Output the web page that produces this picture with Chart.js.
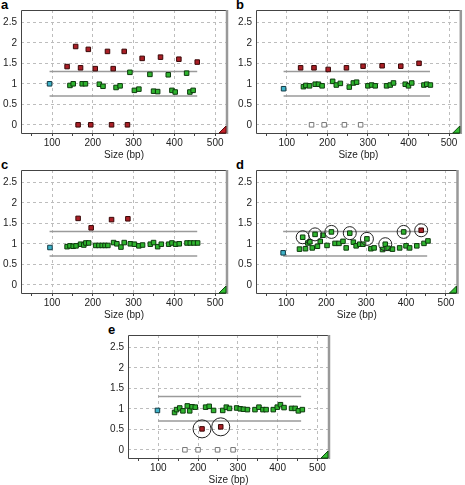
<!DOCTYPE html>
<html>
<head>
<meta charset="utf-8">
<script src="https://cdn.jsdelivr.net/npm/chart.js@4.4.1/dist/chart.umd.min.js"></script>
<style>
  body { margin:0; background:#fff; width:465px; height:485px; position:relative; overflow:hidden; font-family:"Liberation Sans", Arial, sans-serif; }
  canvas { position:absolute; }
  .lbl { position:absolute; font-weight:bold; font-size:13px; color:#000; line-height:13px; }
</style>
</head>
<body>
<div class="lbl" style="left:1px;top:-2px">a</div>
<div class="lbl" style="left:236px;top:-2px">b</div>
<div class="lbl" style="left:1px;top:158px">c</div>
<div class="lbl" style="left:236px;top:158px">d</div>
<div class="lbl" style="left:108px;top:323px">e</div>
<canvas id="pa" width="232" height="163" style="left:0;top:0"></canvas>
<canvas id="pb" width="230" height="163" style="left:235px;top:0"></canvas>
<canvas id="pc" width="232" height="163" style="left:0;top:160px"></canvas>
<canvas id="pd" width="230" height="163" style="left:235px;top:160px"></canvas>
<canvas id="pe" width="232" height="163" style="left:107px;top:325px"></canvas>
<script>
// axis ticks
const xTicks = [50,100,150,200,250,300,350,400,450,500];
const yTicks = [0,0.5,1,1.5,2,2.5];
const xRange = [24, 529];
const yRange = [-0.2, 2.8];
const bounds = [0.7, 1.3];

// panel a  [size bp, ratio]
const aRef = [[94,1.0]];
const aGreen = [[144,0.96],[152,1.0],[174,1.0],[182,1.0],[216,0.99],[225,0.94],[257,0.91],[267,0.95],[291,1.28],[302,0.84],[313,0.87],[340,1.23],[349,0.82],[359,0.81],[385,1.22],[394,0.84],[402,0.80],[430,1.26],[438,0.80],[446,0.84]];
const aRed = [[137,1.42],[158,1.91],[170,1.39],[189,1.84],[206,1.37],[236,1.79],[250,1.37],[277,1.79],[321,1.62],[366,1.65],[411,1.60],[456,1.53],[164,0],[195,0],[246,0],[285,0]];
const aBand = [94, 456];

// panel b
const bRef = [[92,0.88]];
const bGreen = [[141,0.93],[147,0.96],[156,0.95],[170,0.99],[178,0.99],[187,0.95],[213,1.06],[222,0.97],[232,1.01],[254,0.92],[264,1.02],[272,1.04],[300,0.95],[309,0.97],[318,0.95],[346,0.95],[355,0.97],[363,1.02],[392,0.99],[400,0.95],[408,1.02],[438,0.97],[445,0.99],[454,0.97]];
const bRed = [[134,1.39],[167,1.39],[202,1.35],[247,1.39],[288,1.43],[335,1.44],[381,1.43],[426,1.50]];
const bEmpty = [[161,0],[192,0],[242,0],[282,0]];
const bBand = [92, 453];

// panel c
const cRef = [[95,0.91]];
const cGreen = [[137,0.93],[144,0.95],[152,0.94],[159,0.95],[170,0.99],[178,0.97],[183,1.02],[190,1.02],[207,0.96],[215,0.96],[223,0.96],[230,0.96],[237,0.96],[251,1.03],[259,1.0],[269,0.92],[277,1.03],[292,1.0],[302,0.99],[313,0.95],[322,0.97],[341,0.99],[349,1.03],[359,0.93],[368,0.99],[386,0.99],[394,1.02],[403,0.99],[412,1.0],[431,1.02],[439,1.02],[448,1.02],[457,1.02]];
const cRed = [[164,1.62],[196,1.39],[246,1.59],[286,1.61]];
const cBand = [94, 456];

// panel d
const dRef = [[92,0.78]];
const dGreen = [[133,0.87],[148,0.88],[154,1.02],[159,1.05],[165,0.90],[178,0.94],[185,1.06],[192,1.21],[202,0.96],[222,1.01],[232,1.01],[242,1.06],[250,0.90],[268,1.04],[275,0.95],[284,0.99],[292,0.99],[312,0.88],[320,0.90],[341,0.86],[355,0.89],[366,0.87],[384,0.90],[400,0.95],[409,0.90],[427,0.95],[445,1.01],[455,1.07]];
const dGreenFlag = [[141,1.16],[172,1.23],[213,1.29],[259,1.26],[302,1.12],[348,0.99],[394,1.29]];
const dRed = [[438,1.33]];
const dBand = [92, 453];

// panel e
const eRef = [[98,0.96]];
const eGreen = [[141,0.91],[146,0.98],[154,1.02],[162,0.95],[173,1.07],[179,0.95],[185,1.05],[193,1.04],[219,1.04],[228,1.06],[239,0.96],[262,0.96],[271,1.04],[279,1.01],[297,1.02],[306,1.0],[314,0.99],[324,0.98],[343,0.98],[353,1.04],[363,0.98],[371,0.98],[389,0.98],[399,1.04],[407,1.10],[416,1.03],[435,1.01],[444,1.01],[452,0.95],[462,0.98]];
const eRed = [[210,0.51],[257,0.56]];
const eEmpty = [[167,0],[200,0],[249,0],[288,0]];
const eBand = [100, 459];

const GREEN = '#2fb52f', GREEN_E = '#0d3a0d';
const RED = '#aa1f26', RED_E = '#3a0808';
const CYAN = '#3fb3c9', CYAN_E = '#123a44';

function pts(arr){ return arr.map(p => ({x:p[0], y:p[1]})); }

function markers(arr, fill, edge){
  return { type:'scatter', data: pts(arr), pointStyle:'rect', pointRadius:3.2, pointHoverRadius:3.2,
    backgroundColor: fill, borderColor: edge, borderWidth:1, order:1 };
}
function rings(arr, r){
  return { type:'scatter', data: pts(arr), pointStyle:'circle', pointRadius:r, pointHoverRadius:r,
    backgroundColor:'rgba(0,0,0,0)', borderColor:'#222', borderWidth:1, order:0 };
}
function bandLine(band, y){
  return { type:'line', data:[{x:band[0], y:y},{x:band[1], y:y}], borderColor:'#9a9a9a', borderWidth:1.5,
    pointRadius:0, fill:false, order:3 };
}

// frame + corner flag
const framePlugin = {
  id:'frame',
  afterDraw(chart, args, opts){
    const {ctx, chartArea:a} = chart;
    ctx.save();
    ctx.strokeStyle = '#444'; ctx.lineWidth = 1;
    ctx.beginPath();
    ctx.moveTo(a.right, a.top+0.5); ctx.lineTo(a.left+0.5, a.top+0.5);
    ctx.lineTo(a.left+0.5, a.bottom+0.5); ctx.lineTo(a.right, a.bottom+0.5);
    ctx.stroke();
    ctx.strokeStyle = '#999'; ctx.lineWidth = 2.5;
    ctx.beginPath(); ctx.moveTo(a.right, a.top); ctx.lineTo(a.right, a.bottom+1); ctx.stroke();
    // corner flag
    const s = 7;
    ctx.beginPath();
    ctx.moveTo(a.right-1, a.bottom); ctx.lineTo(a.right-1, a.bottom-s); ctx.lineTo(a.right-1-s, a.bottom); ctx.closePath();
    ctx.fillStyle = opts.color; ctx.fill();
    ctx.strokeStyle = opts.edge; ctx.lineWidth = 1; ctx.stroke();
    ctx.restore();
  }
};

function makePanel(id, padTop, padRight, datasets, flag){
  const font = { family:'"Liberation Sans", Arial, sans-serif', size:10 };
  return new Chart(document.getElementById(id), {
    data: { datasets },
    plugins: [framePlugin],
    options: {
      responsive:false, animation:false, devicePixelRatio:1,
      layout: { padding: { top:padTop, right:padRight, bottom:2, left:0 } },
      plugins: { legend:{display:false}, tooltip:{enabled:false}, frame: flag },
      scales: {
        x: {
          type:'linear', min:xRange[0], max:xRange[1],
          afterBuildTicks: s => { s.ticks = xTicks.map(v => ({value:v})); },
          afterFit: s => { s.height = 28; },
          ticks: { autoSkip:false, maxRotation:0, padding:1, color:'#222', font,
            callback: v => (v % 100 === 0 ? String(v) : '') },
          grid: { color: c => (c.tick && c.tick.value % 100 === 0 ? '#bdbdbd' : 'rgba(0,0,0,0)'),
            tickColor:'#444', tickLength:3, tickBorderDash:[] },
          border: { display:false, dash:[3,3] },
          title: { display:true, text:'Size (bp)', color:'#222', font, padding:0 }
        },
        y: {
          type:'linear', min:yRange[0], max:yRange[1],
          afterBuildTicks: s => { s.ticks = yTicks.map(v => ({value:v})); },
          afterFit: s => { s.width = 21; },
          ticks: { padding:4, color:'#222', font, callback: v => String(v) },
          grid: { color:'#bdbdbd', drawTicks:false },
          border: { display:false, dash:[3,3] }
        }
      }
    }
  });
}

const redFlag = { color:'#c4222a', edge:'#5a0a0a' };
const greenFlag = { color:'#33c033', edge:'#0d4a0d' };

makePanel('pa', 7, 5, [
  bandLine(aBand, bounds[0]), bandLine(aBand, bounds[1]),
  markers(aGreen, GREEN, GREEN_E), markers(aRed, RED, RED_E), markers(aRef, CYAN, CYAN_E)
], redFlag);

makePanel('pb', 7, 2, [
  bandLine(bBand, bounds[0]), bandLine(bBand, bounds[1]),
  markers(bGreen, GREEN, GREEN_E), markers(bRed, RED, RED_E), markers(bEmpty, '#fff', '#777'),
  markers(bRef, CYAN, CYAN_E)
], greenFlag);

makePanel('pc', 9, 5, [
  bandLine(cBand, bounds[0]), bandLine(cBand, bounds[1]),
  markers(cGreen, GREEN, GREEN_E), markers(cRed, RED, RED_E), markers(cRef, CYAN, CYAN_E)
], greenFlag);

makePanel('pd', 8, 2, [
  bandLine(dBand, bounds[0]), bandLine(dBand, bounds[1]),
  markers(dGreen, GREEN, GREEN_E), markers(dGreenFlag, GREEN, GREEN_E), markers(dRed, RED, RED_E),
  markers(dRef, CYAN, CYAN_E), rings(dGreenFlag, 6.5), rings(dRed, 6.5)
], greenFlag);

makePanel('pe', 10, 2, [
  bandLine(eBand, bounds[0]), bandLine(eBand, bounds[1]),
  markers(eGreen, GREEN, GREEN_E), markers(eRed, RED, RED_E), markers(eEmpty, '#fff', '#777'),
  markers(eRef, CYAN, CYAN_E), rings(eRed, 9)
], greenFlag);
</script>
</body>
</html>
